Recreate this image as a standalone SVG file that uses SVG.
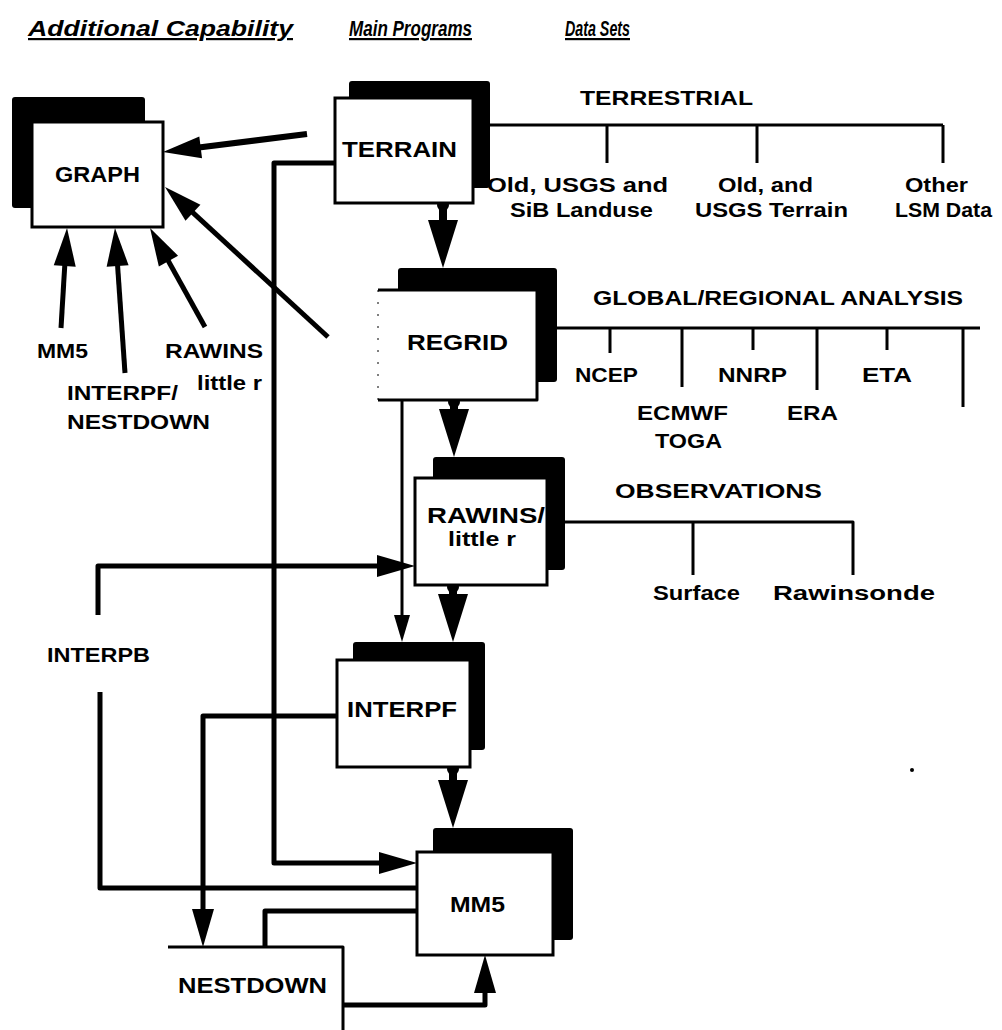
<svg xmlns="http://www.w3.org/2000/svg" width="1002" height="1030" viewBox="0 0 1002 1030">
<style>
.bg{fill:#fff}
.shadow{fill:#000}
.box{fill:#fff;stroke:#000;stroke-width:3}
.t{font-family:"Liberation Sans",Arial,sans-serif;font-weight:bold;fill:#000;lengthAdjust:spacingAndGlyphs}
.hd{font-family:"Liberation Sans",Arial,sans-serif;font-weight:bold;font-style:italic;text-decoration:underline;fill:#000;font-size:22px}
.n{font-size:22px}
.s{font-size:20px}
.c{fill:none;stroke:#000;stroke-linejoin:round;stroke-linecap:butt}
.w8{stroke-width:8}
.w6{stroke-width:6}
.w5{stroke-width:5}
.w3{stroke-width:3}
</style>
<defs>
<marker id="big" viewBox="-26 -16 52 32" refX="0" refY="0" markerWidth="52" markerHeight="32" markerUnits="userSpaceOnUse" orient="auto">
<path d="M-24,-15 L24,0 L-24,15 Z" fill="#000"/>
</marker>
<marker id="med" viewBox="-18 -12 42 24" refX="0" refY="0" markerWidth="42" markerHeight="24" markerUnits="userSpaceOnUse" orient="auto">
<path d="M-16,-11 L22,0 L-16,11 Z" fill="#000"/>
</marker>
<marker id="sm" viewBox="-12 -9 30 18" refX="0" refY="0" markerWidth="30" markerHeight="18" markerUnits="userSpaceOnUse" orient="auto">
<path d="M-11,-8 L16,0 L-11,8 Z" fill="#000"/>
</marker>
<marker id="knob" viewBox="-7 -7 14 14" refX="0" refY="0" markerWidth="14" markerHeight="14" markerUnits="userSpaceOnUse">
<circle cx="0" cy="0" r="6" fill="#000"/>
</marker>
</defs>
<rect class="bg" x="0" y="0" width="1002" height="1030"/>

<g id="headers">
<text class="hd" x="28" y="36" textLength="265" lengthAdjust="spacingAndGlyphs">Additional Capability</text>
<text class="hd" x="349" y="36" textLength="123" lengthAdjust="spacingAndGlyphs">Main Programs</text>
<text class="hd" x="565" y="36" textLength="65" lengthAdjust="spacingAndGlyphs">Data Sets</text>
</g>

<g id="connectors">
<path class="c w6" d="M307,134 L184.8,149.3" marker-end="url(#med)"/>
<path class="c w5" d="M328,337 L181.2,201.9" marker-end="url(#med)"/>
<path class="c w5" d="M61,328 L65.7,250" marker-end="url(#med)"/>
<path class="c w5" d="M125,373 L116.5,250" marker-end="url(#med)"/>
<path class="c w5" d="M205,327 L160.7,247.2" marker-end="url(#med)"/>
<path class="c w8" d="M443,205 V244" marker-start="url(#knob)" marker-end="url(#big)"/>
<path class="c w8" d="M454,402 V433" marker-start="url(#knob)" marker-end="url(#big)"/>
<path class="c w8" d="M453,587 V618" marker-start="url(#knob)" marker-end="url(#big)"/>
<path class="c w8" d="M453,769 V804" marker-start="url(#knob)" marker-end="url(#big)"/>
<path class="c w3" d="M402,400 V626" marker-end="url(#sm)"/>
<path class="c w5" d="M335,163 H274 V863 H395" marker-end="url(#med)"/>
<path class="c w5" d="M98,615 V566 H393" marker-end="url(#med)"/>
<path class="c w5" d="M100,692 V888 H417"/>
<path class="c w5" d="M337,716 H203 V925" marker-end="url(#med)"/>
<path class="c w5" d="M417,911 H265 V947"/>
<path class="c w5" d="M343,1005 H485 V977" marker-end="url(#med)"/>
<path class="c w3" d="M490,125 H943 M607,125 V163 M757,125 V163 M943,125 V163"/>
<path class="c w3" d="M557,328 H980 M610,328 V353 M682,328 V387 M753,328 V350 M817,328 V390 M887,328 V350 M963,328 V407"/>
<path class="c w3" d="M565,522 H853 V575 M693,522 V575"/>
</g>

<g id="graph">
<rect class="shadow" x="12" y="97" width="133" height="111" rx="3"/>
<rect class="box" x="32" y="122" width="131" height="105"/>
<text class="t n" x="55" y="182" textLength="85" lengthAdjust="spacingAndGlyphs">GRAPH</text>
</g>

<g id="terrain">
<rect class="shadow" x="349" y="81" width="141" height="107" rx="3"/>
<rect class="box" x="335" y="98" width="138" height="105"/>
<text class="t n" x="342" y="157" textLength="115" lengthAdjust="spacingAndGlyphs">TERRAIN</text>
</g>

<g id="regrid">
<rect class="shadow" x="398" y="268" width="159" height="114" rx="3"/>
<rect x="378" y="290" width="159" height="110" fill="#fff"/>
<path class="c w3" d="M378,290 H537 V400 H378"/>
<path d="M378,290 V400" stroke="#000" stroke-width="1" stroke-dasharray="2 10" fill="none"/>
<text class="t n" x="407" y="350" textLength="101" lengthAdjust="spacingAndGlyphs">REGRID</text>
</g>

<g id="rawins">
<rect class="shadow" x="433" y="457" width="132" height="113" rx="3"/>
<rect class="box" x="415" y="478" width="132" height="107"/>
<text class="t n" x="427" y="523" textLength="118" lengthAdjust="spacingAndGlyphs">RAWINS/</text>
<text class="t s" x="448" y="546" textLength="68" lengthAdjust="spacingAndGlyphs">little r</text>
</g>

<g id="interpf">
<rect class="shadow" x="353" y="642" width="132" height="108" rx="3"/>
<rect class="box" x="337" y="660" width="133" height="107"/>
<text class="t n" x="347" y="717" textLength="110" lengthAdjust="spacingAndGlyphs">INTERPF</text>
</g>

<g id="mm5">
<rect class="shadow" x="433" y="828" width="140" height="112" rx="3"/>
<rect class="box" x="417" y="852" width="136" height="103"/>
<text class="t n" x="450" y="912" textLength="55" lengthAdjust="spacingAndGlyphs">MM5</text>
</g>

<g id="nestdown">
<path class="c w3" d="M168,947 H343 V1030"/>
<text class="t n" x="178" y="993" textLength="149" lengthAdjust="spacingAndGlyphs">NESTDOWN</text>
</g>

<g id="labels">
<text class="t s" x="47" y="662" textLength="103" lengthAdjust="spacingAndGlyphs">INTERPB</text>
<text class="t s" x="37" y="358" textLength="51" lengthAdjust="spacingAndGlyphs">MM5</text>
<text class="t s" x="165" y="358" textLength="98" lengthAdjust="spacingAndGlyphs">RAWINS</text>
<text class="t s" x="197" y="390" textLength="65" lengthAdjust="spacingAndGlyphs">little r</text>
<text class="t s" x="67" y="400" textLength="111" lengthAdjust="spacingAndGlyphs">INTERPF/</text>
<text class="t s" x="67" y="429" textLength="143" lengthAdjust="spacingAndGlyphs">NESTDOWN</text>
</g>

<g id="datasets">
<text class="t s" x="580" y="105" textLength="173" lengthAdjust="spacingAndGlyphs">TERRESTRIAL</text>
<text class="t s" x="487" y="192" textLength="181" lengthAdjust="spacingAndGlyphs">Old, USGS and</text>
<text class="t s" x="510" y="217" textLength="143" lengthAdjust="spacingAndGlyphs">SiB Landuse</text>
<text class="t s" x="718" y="192" textLength="95" lengthAdjust="spacingAndGlyphs">Old, and</text>
<text class="t s" x="695" y="217" textLength="153" lengthAdjust="spacingAndGlyphs">USGS Terrain</text>
<text class="t s" x="905" y="192" textLength="63" lengthAdjust="spacingAndGlyphs">Other</text>
<text class="t s" x="895" y="217" textLength="97" lengthAdjust="spacingAndGlyphs">LSM Data</text>
<text class="t s" x="593" y="305" textLength="370" lengthAdjust="spacingAndGlyphs">GLOBAL/REGIONAL ANALYSIS</text>
<text class="t s" x="575" y="382" textLength="63" lengthAdjust="spacingAndGlyphs">NCEP</text>
<text class="t s" x="637" y="420" textLength="91" lengthAdjust="spacingAndGlyphs">ECMWF</text>
<text class="t s" x="655" y="448" textLength="67" lengthAdjust="spacingAndGlyphs">TOGA</text>
<text class="t s" x="718" y="382" textLength="69" lengthAdjust="spacingAndGlyphs">NNRP</text>
<text class="t s" x="787" y="420" textLength="51" lengthAdjust="spacingAndGlyphs">ERA</text>
<text class="t s" x="862" y="382" textLength="50" lengthAdjust="spacingAndGlyphs">ETA</text>
<text class="t s" x="615" y="498" textLength="207" lengthAdjust="spacingAndGlyphs">OBSERVATIONS</text>
<text class="t s" x="653" y="600" textLength="87" lengthAdjust="spacingAndGlyphs">Surface</text>
<text class="t s" x="773" y="600" textLength="162" lengthAdjust="spacingAndGlyphs">Rawinsonde</text>
</g>
<circle cx="912" cy="770" r="2" fill="#000"/>
</svg>
